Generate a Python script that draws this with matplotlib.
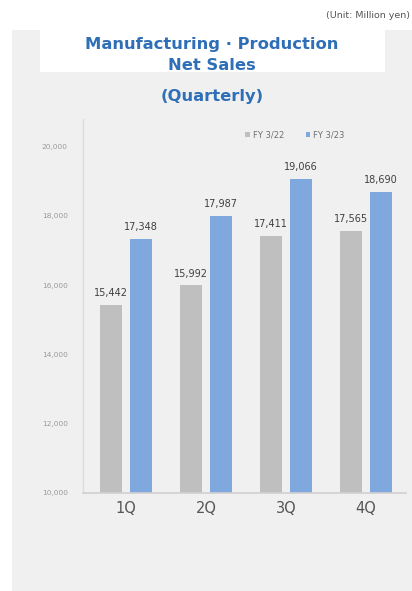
import matplotlib
matplotlib.use("Agg")
import matplotlib.pyplot as plt
from matplotlib.patches import Rectangle, Patch
import numpy as np

# Quarterly net sales, million yen
quarters = ["1Q", "2Q", "3Q", "4Q"]
fy22 = [15442, 15992, 17411, 17565]
fy23 = [17348, 17987, 19066, 18690]
series_names = ["FY 3/22", "FY 3/23"]
y_ticks = [10000, 12000, 14000, 16000, 18000, 20000]

W, H = 412, 591
DPI = 100
fig = plt.figure(figsize=(W / DPI, H / DPI), dpi=DPI, facecolor="white")


def fx(px):
    return px / W


def fy(py):
    return 1 - py / H


# light grey panel behind the chart and white title strip
fig.patches.append(Rectangle((fx(12), 0), fx(400), fy(30), transform=fig.transFigure,
                             facecolor="#f0f0f0", edgecolor="none", zorder=-2))
fig.patches.append(Rectangle((fx(40), fy(72)), fx(345), fy(30) - fy(72),
                             transform=fig.transFigure, facecolor="white",
                             edgecolor="none", zorder=-1))

title_color = "#2f6fb7"
fig.text(fx(212), fy(45), "Manufacturing · Production", ha="center", va="center",
         fontsize=11.8, fontweight="bold", color=title_color)
fig.text(fx(212), fy(66), "Net Sales", ha="center", va="center",
         fontsize=11.8, fontweight="bold", color=title_color)
fig.text(fx(212), fy(96), "(Quarterly)", ha="center", va="center",
         fontsize=11.8, fontweight="bold", color=title_color)
fig.text(fx(410), fy(15), "(Unit: Million yen)", ha="right", va="center",
         fontsize=6.8, color="#555555")

ax = fig.add_axes([fx(83), fy(493), fx(406) - fx(83), fy(119) - fy(493)])
ax.set_facecolor("none")

gray = "#bfbfbf"
blue = "#7fa8df"
x = np.arange(len(quarters))
w = 0.275
off = 0.19
b1 = ax.bar(x - off, fy22, width=w, color=gray, zorder=2)
b2 = ax.bar(x + off, fy23, width=w, color=blue, zorder=2)

for bars, vals in ((b1, fy22), (b2, fy23)):
    for rect, v in zip(bars, vals):
        ax.annotate(f"{v:,}", (rect.get_x() + rect.get_width() / 2, v),
                    xytext=(0, 5), textcoords="offset points",
                    ha="center", va="bottom", fontsize=7, color="#404040")

ax.set_ylim(10000, 20800)
ax.set_xlim(-0.5 - 3 / 80, 3.5)
ax.set_yticks(y_ticks)
ax.set_yticklabels([f"{t:,}" for t in y_ticks], fontsize=5.3, color="#9a9a9a")
ax.set_xticks(x)
ax.set_xticklabels(quarters, fontsize=10.5, color="#555555", fontweight="medium")
ax.tick_params(axis="both", length=0)
ax.tick_params(axis="y", pad=11)
ax.tick_params(axis="x", pad=6)

for s in ("top", "right"):
    ax.spines[s].set_visible(False)
ax.spines["left"].set_color("#dcdcdc")
ax.spines["bottom"].set_color("#d0d0d0")
ax.spines["left"].set_linewidth(1.0)
ax.spines["bottom"].set_linewidth(1.2)

handles = [Patch(facecolor=gray, edgecolor="none"), Patch(facecolor=blue, edgecolor="none")]
fig.legend(handles, series_names, loc="center", bbox_to_anchor=(fx(295), fy(135)),
           ncol=2, frameon=False, fontsize=6, labelcolor="#707070",
           handlelength=0.5, handleheight=0.5, handletextpad=0.4, columnspacing=2.6)

fig.savefig("out.png", dpi=DPI, facecolor="white")
